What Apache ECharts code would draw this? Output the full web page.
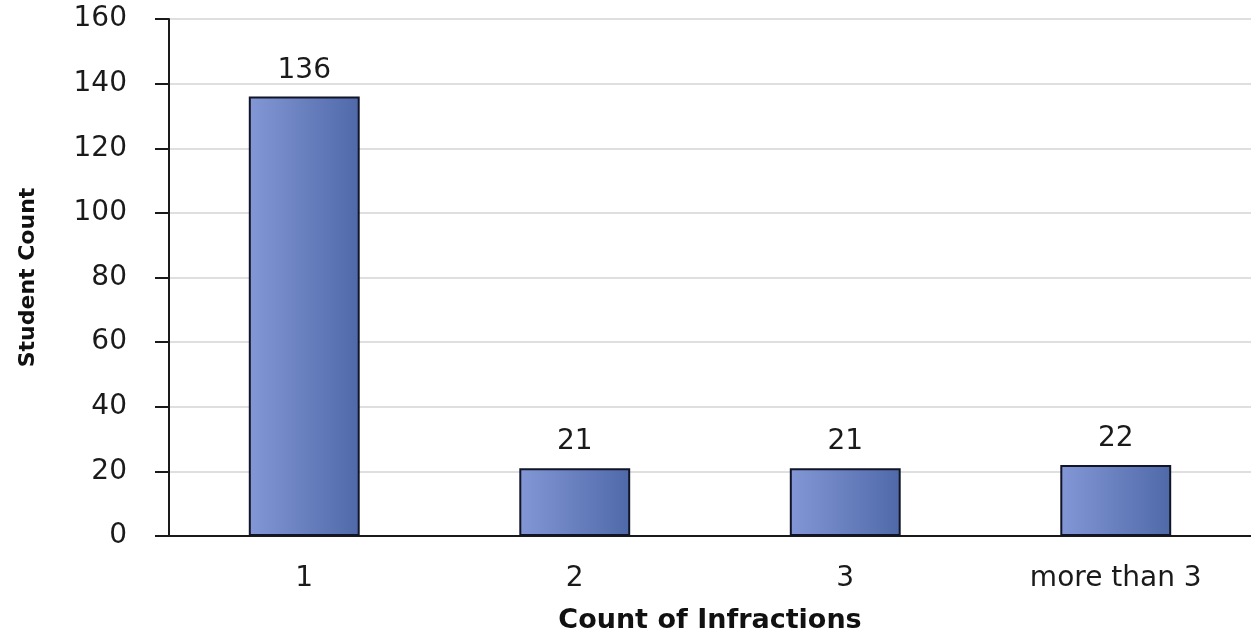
<!DOCTYPE html>
<html>
<head>
<meta charset="UTF-8">
<title>Count of Infractions</title>
<script src="https://cdn.jsdelivr.net/npm/echarts@6/dist/echarts.min.js"></script>
<style>
	html,body{margin:0;padding:0;background:#fff;}
	#main{width:1251px;height:632px;}
</style>
</head>
<body>
<div id="main"></div>
<script type="text/javascript">
// data
var categories = ['1', '2', '3', 'more than 3'];
var studentCounts = [136, 21, 21, 22];
var yTicks = {min: 0, max: 160, step: 20};

var myChart = echarts.init(document.getElementById('main'));

var barFill = new echarts.graphic.LinearGradient(0, 0, 1, 0, [
	{offset: 0, color: '#8397d6'},
	{offset: 1, color: '#4f69a8'}
]);

var option = {
	animation: false,
	grid: {left: 169, right: 0, top: 19, bottom: 96, containLabel: false, outerBoundsMode: 'none'},
	xAxis: {
		type: 'category',
		data: categories,
		name: 'Count of Infractions',
		nameLocation: 'middle',
		nameGap: 71,
		nameTextStyle: {fontFamily: 'DejaVu Sans', fontWeight: 'bold', fontSize: 27, color: '#111'},
		axisLine: {lineStyle: {color: '#1a1a1a', width: 2}},
		axisTick: {alignWithLabel: true, length: 7, lineStyle: {color: '#1a1a1a', width: 2}},
		axisLabel: {fontFamily: 'DejaVu Sans', fontSize: 28, color: '#1a1a1a', margin: 29}
	},
	yAxis: {
		type: 'value',
		min: yTicks.min,
		max: yTicks.max,
		interval: yTicks.step,
		name: 'Student Count',
		nameLocation: 'middle',
		nameGap: 130,
		nameRotate: 90,
		nameTextStyle: {fontFamily: 'DejaVu Sans', fontWeight: 'bold', fontSize: 22, color: '#111'},
		axisLine: {show: true, lineStyle: {color: '#1a1a1a', width: 2}},
		axisTick: {show: true, inside: false, length: 14, lineStyle: {color: '#1a1a1a', width: 2}},
		axisLabel: {fontFamily: 'DejaVu Sans', fontSize: 28, color: '#1a1a1a', margin: 42},
		splitLine: {lineStyle: {color: '#d4d4d4', width: 1.5}}
	},
	series: [{
		type: 'bar',
		data: studentCounts,
		barWidth: '41%',
		itemStyle: {color: barFill, borderColor: '#111527', borderWidth: 2},
		label: {
			show: true,
			position: 'top',
			distance: 12,
			fontFamily: 'DejaVu Sans',
			fontSize: 28,
			color: '#1a1a1a'
		}
	}]
};
myChart.setOption(option);
</script>
</body>
</html>
